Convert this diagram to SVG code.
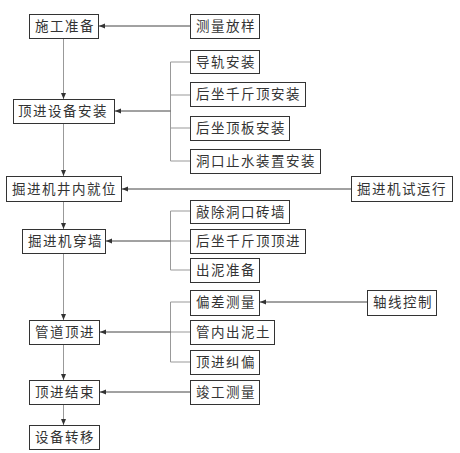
<svg xmlns="http://www.w3.org/2000/svg" width="460" height="453" viewBox="0 0 460 453">
<style>
.b{fill:#fff;stroke:#333;stroke-width:1}
.s{fill:#777}
.t{font-family:"Noto Sans CJK SC","Liberation Sans",sans-serif;font-size:13.5px;letter-spacing:1.5px;fill:#333}
.m{stroke:#999;stroke-width:1;fill:none}
.a{stroke:#444;stroke-width:1;fill:none;marker-end:url(#ar)}
.av{stroke:#999;stroke-width:1;fill:none;marker-end:url(#ar)}
</style>
<defs>
<marker id="ar" viewBox="0 0 6 6" refX="6" refY="3" markerWidth="6" markerHeight="6" markerUnits="userSpaceOnUse" orient="auto">
<path d="M0,0.5 L6,3 L0,5.5 Z" fill="#333"/>
</marker>
</defs>
<rect width="460" height="453" fill="#fff"/>
<g id="connectors">
<line class="av" x1="63.5" y1="38" x2="63.5" y2="99"/>
<line class="av" x1="63.5" y1="123" x2="63.5" y2="176"/>
<line class="av" x1="63.5" y1="201" x2="63.5" y2="229"/>
<line class="av" x1="63.5" y1="253" x2="63.5" y2="320"/>
<line class="av" x1="63.5" y1="344" x2="63.5" y2="380"/>
<line class="av" x1="63.5" y1="404" x2="63.5" y2="425"/>
<line class="a" x1="190" y1="26" x2="99" y2="26"/>
<path class="m" d="M190,62H170.5V161H190M170.5,95H190M170.5,128H190"/>
<line class="a" x1="170.5" y1="111" x2="115" y2="111"/>
<line class="a" x1="351" y1="189" x2="122" y2="189"/>
<path class="m" d="M190,211H170.5V270H190M170.5,241H190"/>
<line class="a" x1="170.5" y1="241" x2="106" y2="241"/>
<line class="a" x1="367" y1="302" x2="260" y2="302"/>
<path class="m" d="M190,302H170.5V362H190M170.5,332H190"/>
<line class="a" x1="170.5" y1="332" x2="100" y2="332"/>
<line class="a" x1="190" y1="392" x2="100" y2="392"/>
</g>
<g id="n1"><rect class="s" x="30" y="15" width="69" height="24"/><rect class="b" x="29.5" y="14.5" width="69" height="24"/><text class="t" x="35" y="31">施工准备</text></g>
<g id="n2"><rect class="s" x="191" y="15" width="69" height="24"/><rect class="b" x="190.5" y="14.5" width="69" height="24"/><text class="t" x="196" y="31">测量放样</text></g>
<g id="n3"><rect class="s" x="191" y="51" width="69" height="23"/><rect class="b" x="190.5" y="50.5" width="69" height="23"/><text class="t" x="196" y="67">导轨安装</text></g>
<g id="n4"><rect class="s" x="191" y="83" width="115" height="24"/><rect class="b" x="190.5" y="82.5" width="115" height="24"/><text class="t" x="196" y="99">后坐千斤顶安装</text></g>
<g id="n5"><rect class="s" x="14" y="100" width="101" height="24"/><rect class="b" x="13.5" y="99.5" width="101" height="24"/><text class="t" x="18" y="116">顶进设备安装</text></g>
<g id="n6"><rect class="s" x="191" y="117" width="99" height="24"/><rect class="b" x="190.5" y="116.5" width="99" height="24"/><text class="t" x="196" y="133">后坐顶板安装</text></g>
<g id="n7"><rect class="s" x="191" y="150" width="130" height="24"/><rect class="b" x="190.5" y="149.5" width="130" height="24"/><text class="t" x="196" y="166">洞口止水装置安装</text></g>
<g id="n8"><rect class="s" x="7" y="177" width="115" height="25"/><rect class="b" x="6.5" y="176.5" width="115" height="25"/><text class="t" x="12" y="194">掘进机井内就位</text></g>
<g id="n9"><rect class="s" x="352" y="177" width="101" height="25"/><rect class="b" x="351.5" y="176.5" width="101" height="25"/><text class="t" x="357" y="194">掘进机试运行</text></g>
<g id="n10"><rect class="s" x="191" y="201" width="99" height="23"/><rect class="b" x="190.5" y="200.5" width="99" height="23"/><text class="t" x="196" y="217">敲除洞口砖墙</text></g>
<g id="n11"><rect class="s" x="23" y="230" width="83" height="24"/><rect class="b" x="22.5" y="229.5" width="83" height="24"/><text class="t" x="28" y="246">掘进机穿墙</text></g>
<g id="n12"><rect class="s" x="191" y="230" width="115" height="24"/><rect class="b" x="190.5" y="229.5" width="115" height="24"/><text class="t" x="196" y="246">后坐千斤顶顶进</text></g>
<g id="n13"><rect class="s" x="191" y="259" width="69" height="24"/><rect class="b" x="190.5" y="258.5" width="69" height="24"/><text class="t" x="196" y="275">出泥准备</text></g>
<g id="n14"><rect class="s" x="191" y="291" width="69" height="25"/><rect class="b" x="190.5" y="290.5" width="69" height="25"/><text class="t" x="196" y="307">偏差测量</text></g>
<g id="n15"><rect class="s" x="368" y="291" width="69" height="25"/><rect class="b" x="367.5" y="290.5" width="69" height="25"/><text class="t" x="373" y="307">轴线控制</text></g>
<g id="n16"><rect class="s" x="30" y="321" width="70" height="24"/><rect class="b" x="29.5" y="320.5" width="70" height="24"/><text class="t" x="35" y="337">管道顶进</text></g>
<g id="n17"><rect class="s" x="191" y="321" width="84" height="24"/><rect class="b" x="190.5" y="320.5" width="84" height="24"/><text class="t" x="196" y="337">管内出泥土</text></g>
<g id="n18"><rect class="s" x="191" y="351" width="69" height="24"/><rect class="b" x="190.5" y="350.5" width="69" height="24"/><text class="t" x="196" y="367">顶进纠偏</text></g>
<g id="n19"><rect class="s" x="30" y="381" width="70" height="24"/><rect class="b" x="29.5" y="380.5" width="70" height="24"/><text class="t" x="35" y="397">顶进结束</text></g>
<g id="n20"><rect class="s" x="191" y="381" width="69" height="24"/><rect class="b" x="190.5" y="380.5" width="69" height="24"/><text class="t" x="196" y="397">竣工测量</text></g>
<g id="n21"><rect class="s" x="30" y="426" width="70" height="24"/><rect class="b" x="29.5" y="425.5" width="70" height="24"/><text class="t" x="35" y="442">设备转移</text></g>
</svg>
